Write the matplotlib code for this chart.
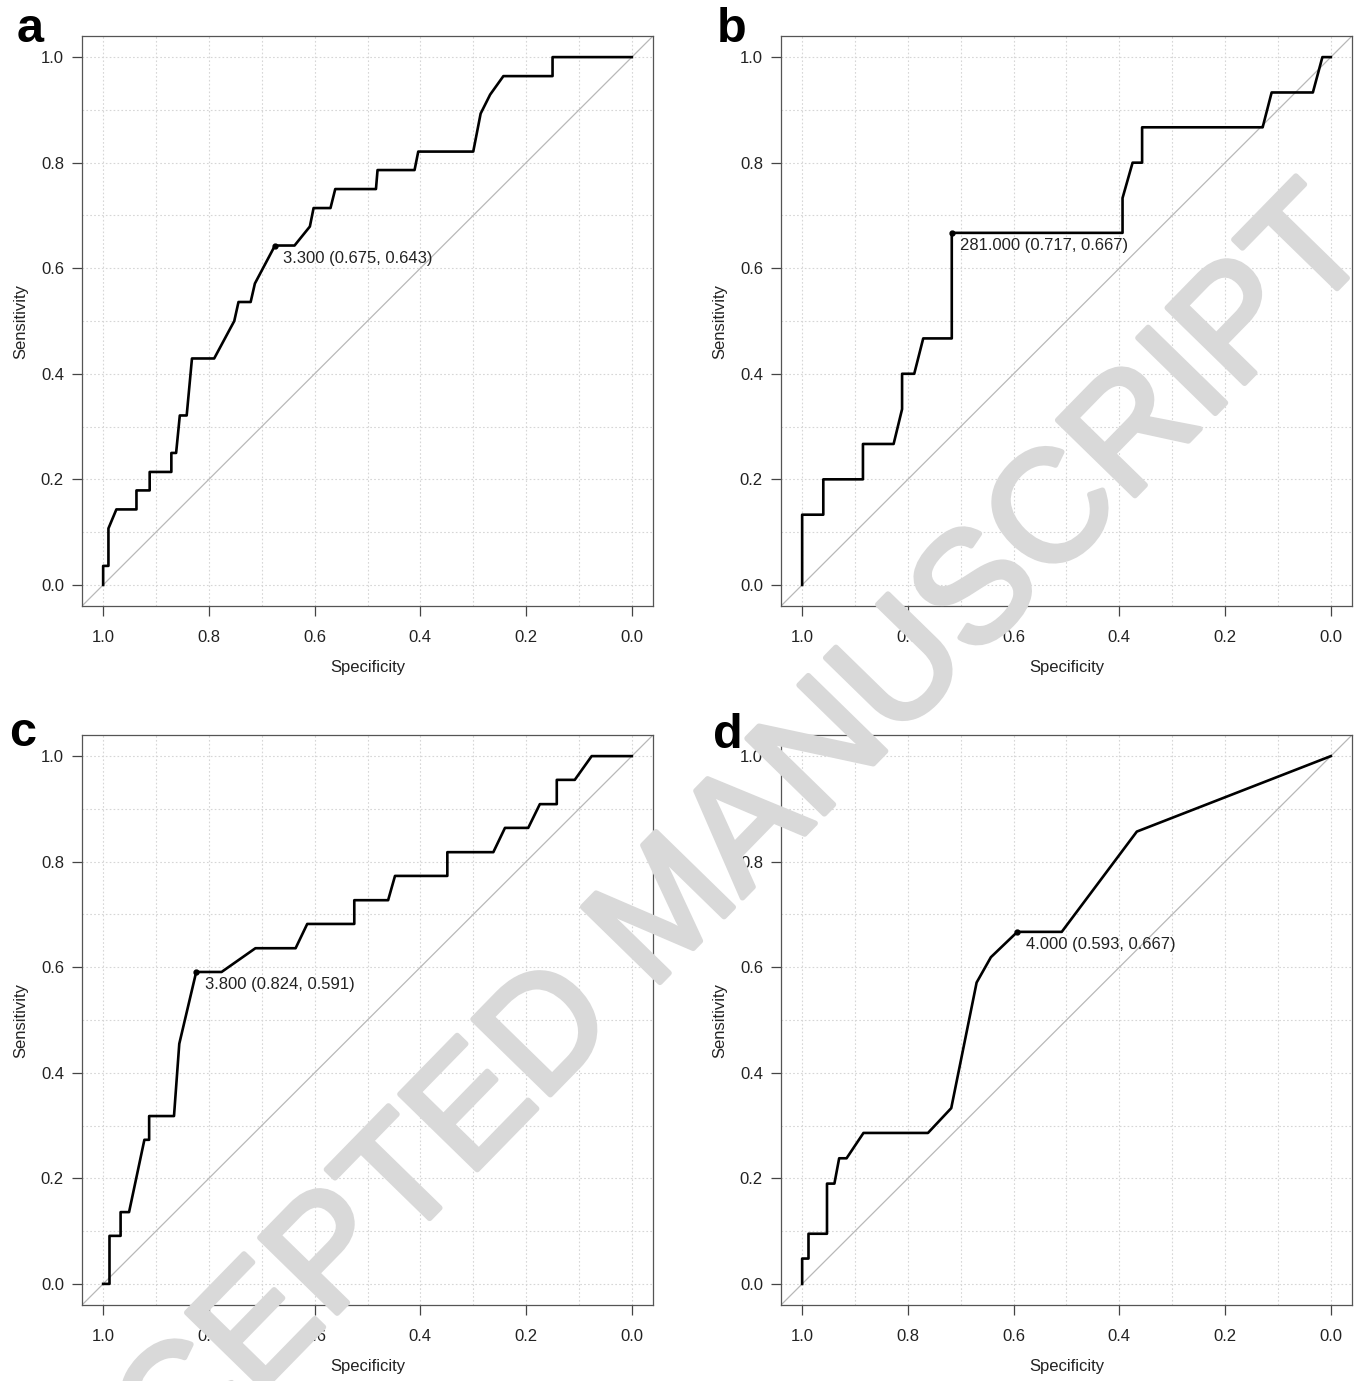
import matplotlib
matplotlib.use("Agg")
import matplotlib.pyplot as plt
import matplotlib.patheffects as pe
from matplotlib.ticker import MultipleLocator

plt.rcParams["font.family"] = ["Liberation Sans", "DejaVu Sans"]

# ROC curves: specificity (x) and sensitivity (y)
a_spec = [1.0, 1.0, 0.99, 0.99, 0.975, 0.937, 0.937, 0.912, 0.912, 0.871,
          0.871, 0.862, 0.855, 0.842, 0.832, 0.79, 0.752, 0.744, 0.721, 0.713,
          0.675, 0.638, 0.609, 0.602, 0.57, 0.561, 0.484, 0.481, 0.411, 0.404,
          0.30, 0.286, 0.268, 0.243, 0.15, 0.15, 0.0]
a_sens = [0.0, 0.036, 0.036, 0.107, 0.143, 0.143, 0.179, 0.179, 0.214, 0.214,
          0.25, 0.25, 0.321, 0.321, 0.429, 0.429, 0.50, 0.536, 0.536, 0.571,
          0.643, 0.643, 0.679, 0.714, 0.714, 0.75, 0.75, 0.786, 0.786, 0.821,
          0.821, 0.893, 0.929, 0.964, 0.964, 1.0, 1.0]

b_spec = [1.0, 1.0, 0.96, 0.96, 0.885, 0.885, 0.827, 0.811, 0.811, 0.788,
          0.771, 0.717, 0.717, 0.394, 0.394, 0.375, 0.357, 0.357, 0.129, 0.112,
          0.034, 0.016, 0.0]
b_sens = [0.0, 0.133, 0.133, 0.2, 0.2, 0.267, 0.267, 0.333, 0.4, 0.4,
          0.467, 0.467, 0.667, 0.667, 0.733, 0.8, 0.8, 0.867, 0.867, 0.933,
          0.933, 1.0, 1.0]

c_spec = [1.0, 0.988, 0.988, 0.967, 0.967, 0.951, 0.922, 0.913, 0.913, 0.866,
          0.856, 0.824, 0.776, 0.712, 0.636, 0.614, 0.525, 0.525, 0.461, 0.448,
          0.349, 0.349, 0.262, 0.24, 0.196, 0.174, 0.142, 0.142, 0.108, 0.076,
          0.0]
c_sens = [0.0, 0.0, 0.091, 0.091, 0.136, 0.136, 0.273, 0.273, 0.318, 0.318,
          0.455, 0.591, 0.591, 0.636, 0.636, 0.682, 0.682, 0.727, 0.727, 0.773,
          0.773, 0.818, 0.818, 0.864, 0.864, 0.909, 0.909, 0.955, 0.955, 1.0,
          1.0]

d_spec = [1.0, 1.0, 0.988, 0.988, 0.953, 0.953, 0.939, 0.93, 0.916, 0.884,
          0.762, 0.718, 0.67, 0.643, 0.593, 0.509, 0.367, 0.0]
d_sens = [0.0, 0.048, 0.048, 0.095, 0.095, 0.19, 0.19, 0.238, 0.238, 0.286,
          0.286, 0.333, 0.571, 0.619, 0.667, 0.667, 0.857, 1.0]

# best threshold printed on each curve
thresholds = [3.3, 281.0, 3.8, 4.0]
best_spec = [0.675, 0.717, 0.824, 0.593]
best_sens = [0.643, 0.667, 0.591, 0.667]

panel_letters = ["a", "b", "c", "d"]
tick_values = [1.0, 0.8, 0.6, 0.4, 0.2, 0.0]
tick_labels = ["1.0", "0.8", "0.6", "0.4", "0.2", "0.0"]

W, H = 1356, 1381
fig = plt.figure(figsize=(W / 100, H / 100), dpi=100)
fig.patch.set_facecolor("white")

# axes boxes in pixels: left, top, width, height
boxes = [(82, 36, 571, 570), (781, 36, 571, 570),
         (82, 735, 571, 570), (781, 735, 571, 570)]
curves = [(a_spec, a_sens), (b_spec, b_sens), (c_spec, c_sens), (d_spec, d_sens)]
letter_pos = [(17, 42), (717, 42), (9, 746), (713, 748)]

for i, (spec, sens) in enumerate(curves):
    l, t, w, h = boxes[i]
    ax = fig.add_axes([l / W, 1 - (t + h) / H, w / W, h / H])
    ax.set_xlim(1.04, -0.04)
    ax.set_ylim(-0.04, 1.04)

    ax.xaxis.set_minor_locator(MultipleLocator(0.1))
    ax.yaxis.set_minor_locator(MultipleLocator(0.1))
    ax.grid(which="both", color="#d6d6d6", linestyle=(0, (1.5, 2)), linewidth=0.8)
    ax.set_axisbelow(True)
    ax.tick_params(which="minor", length=0)

    ax.axline((1, 0), (0, 1), color="#b8b8b8", linewidth=0.9, zorder=2)
    ax.plot(spec, sens, color="black", linewidth=1.9, zorder=3)
    ax.plot(best_spec[i], best_sens[i], "o", color="black", markersize=3.5, zorder=4)
    ax.annotate(f"{thresholds[i]:.3f} ({best_spec[i]:.3f}, {best_sens[i]:.3f})",
                (best_spec[i], best_sens[i]), xytext=(6, -9),
                textcoords="offset points", ha="left", va="center",
                fontsize=12, color="#222222")

    ax.set_xticks(tick_values)
    ax.set_xticklabels(tick_labels)
    ax.set_yticks(tick_values)
    ax.set_yticklabels(tick_labels)
    ax.tick_params(which="major", direction="out", length=7, width=0.9,
                   color="#444444", labelsize=12, labelcolor="#222222")
    ax.tick_params(axis="x", pad=10)
    ax.tick_params(axis="y", pad=6)
    for sp in ax.spines.values():
        sp.set_color("#555555")
        sp.set_linewidth(0.9)

    ax.set_xlabel("Specificity", fontsize=12, color="#222222", labelpad=11)
    ax.set_ylabel("Sensitivity", fontsize=12, color="#222222", labelpad=9)

    lx, ly = letter_pos[i]
    fig.text(lx / W, 1 - ly / H, panel_letters[i], fontsize=35, fontweight="bold",
             ha="left", va="baseline")

# watermark across the page
wm_color = "#d9d9d9"
fig.text(671 / W, 1 - 913 / H, "ACCEPTED MANUSCRIPT", fontsize=113,
         color=wm_color, rotation=45.7, ha="center", va="center",
         rotation_mode="anchor", zorder=10,
         path_effects=[pe.withStroke(linewidth=4, foreground=wm_color)])

fig.savefig("out.png", dpi=100)
